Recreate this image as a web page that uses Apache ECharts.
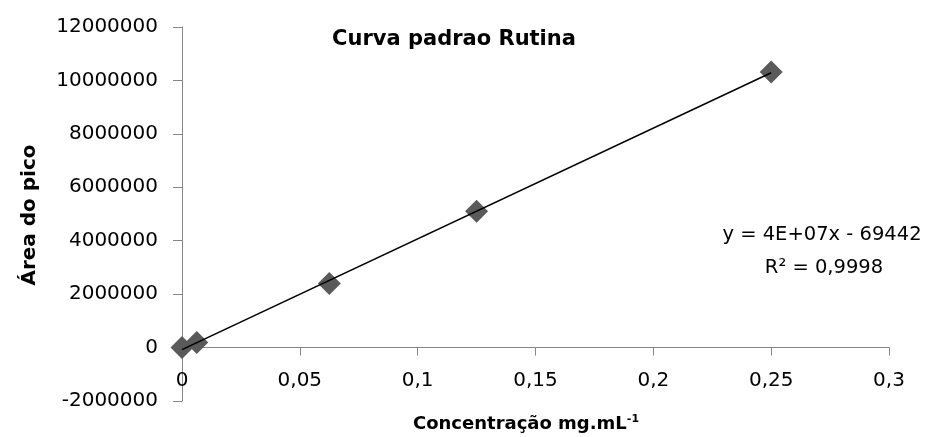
<!DOCTYPE html>
<html>
<head>
<meta charset="utf-8">
<script src="https://cdn.jsdelivr.net/npm/echarts@6/dist/echarts.min.js"></script>
<style>html,body{margin:0;padding:0;background:#fff}#c{width:931px;height:437px}</style>
</head>
<body>
<div id="c"></div>
<script>
const concentrations = [0, 0.00625, 0.0625, 0.125, 0.25];
const peakAreas = [0, 190000, 2400000, 5100000, 10320000];
const xTicks = [0, 0.05, 0.1, 0.15, 0.2, 0.25, 0.3];
const yTicks = [-2000000, 0, 2000000, 4000000, 6000000, 8000000, 10000000, 12000000];
const titleText = 'Curva padrao Rutina';
const xName = 'Concentração mg.mL';
const yName = 'Área do pico';
const eqLine1 = 'y = 4E+07x - 69442';
const eqLine2 = 'R² = 0,9998';

// least squares trendline from the data
const n = concentrations.length;
let sx=0, sy=0, sxy=0, sxx=0;
for (let i=0;i<n;i++){sx+=concentrations[i];sy+=peakAreas[i];sxy+=concentrations[i]*peakAreas[i];sxx+=concentrations[i]*concentrations[i];}
const slope = (n*sxy - sx*sy)/(n*sxx - sx*sx);
const intercept = (sy - slope*sx)/n;
const xMin = Math.min(...concentrations), xMax = Math.max(...concentrations);
const trend = [[xMin, slope*xMin+intercept],[xMax, slope*xMax+intercept]];

const FONT = 'DejaVu Sans';
const chart = echarts.init(document.getElementById('c'));
chart.setOption({
  animation: false,
  backgroundColor: '#fff',
  grid: {left: 182, right: 42, top: 27, bottom: 36},
  xAxis: {
    type: 'value', min: xTicks[0], max: xTicks[xTicks.length-1], interval: 0.05,
    axisLine: {onZero: true, lineStyle: {color: '#868686', width: 1}},
    axisTick: {show: true, length: 8, lineStyle: {color: '#868686'}},
    splitLine: {show: false},
    axisLabel: {margin: -30, color: '#000', fontFamily: FONT, fontSize: 20,
      formatter: v => String(+v.toFixed(2)).replace('.', ',')}
  },
  yAxis: {
    type: 'value', min: yTicks[0], max: yTicks[yTicks.length-1], interval: 2000000,
    axisLine: {show: true, onZero: false, lineStyle: {color: '#868686', width: 1}},
    axisTick: {show: true, length: 9, lineStyle: {color: '#868686'}},
    splitLine: {show: false},
    axisLabel: {margin: 24, color: '#000', fontFamily: FONT, fontSize: 20,
      formatter: v => String(v)}
  },
  graphic: [
    {type: 'text', x: 454, y: 40, style: {text: titleText, fill: '#000', font: 'bold 21px "DejaVu Sans"', align: 'center', verticalAlign: 'middle'}},
    {type: 'text', x: 30, y: 215, rotation: Math.PI/2, style: {text: yName, fill: '#000', font: 'bold 20px "DejaVu Sans"', align: 'center', verticalAlign: 'middle'}},
    {type: 'text', x: 526, y: 424, style: {
      text: '{a|' + xName + '}{s|-1}', align: 'center', verticalAlign: 'middle',
      rich: {a: {fontFamily: FONT, fontWeight: 'bold', fontSize: 18, color: '#000'},
             s: {fontFamily: FONT, fontWeight: 'bold', fontSize: 11, color: '#000', verticalAlign: 'top', padding: [0,0,10,0]}}
    }},
    {type: 'text', x: 822, y: 235, style: {text: eqLine1, fill: '#000', font: '19.5px "DejaVu Sans"', align: 'center', verticalAlign: 'middle'}},
    {type: 'text', x: 824, y: 268, style: {text: eqLine2, fill: '#000', font: '19.5px "DejaVu Sans"', align: 'center', verticalAlign: 'middle'}}
  ],
  series: [
    {type: 'scatter', data: concentrations.map((c,i)=>[c, peakAreas[i]]), symbol: 'diamond', symbolSize: 23,
     itemStyle: {color: '#5a5a5a', opacity: 1}, z: 2},
    {type: 'line', data: trend, symbol: 'none', lineStyle: {color: '#000', width: 1.5}, z: 3}
  ]
});
</script>
</body>
</html>
